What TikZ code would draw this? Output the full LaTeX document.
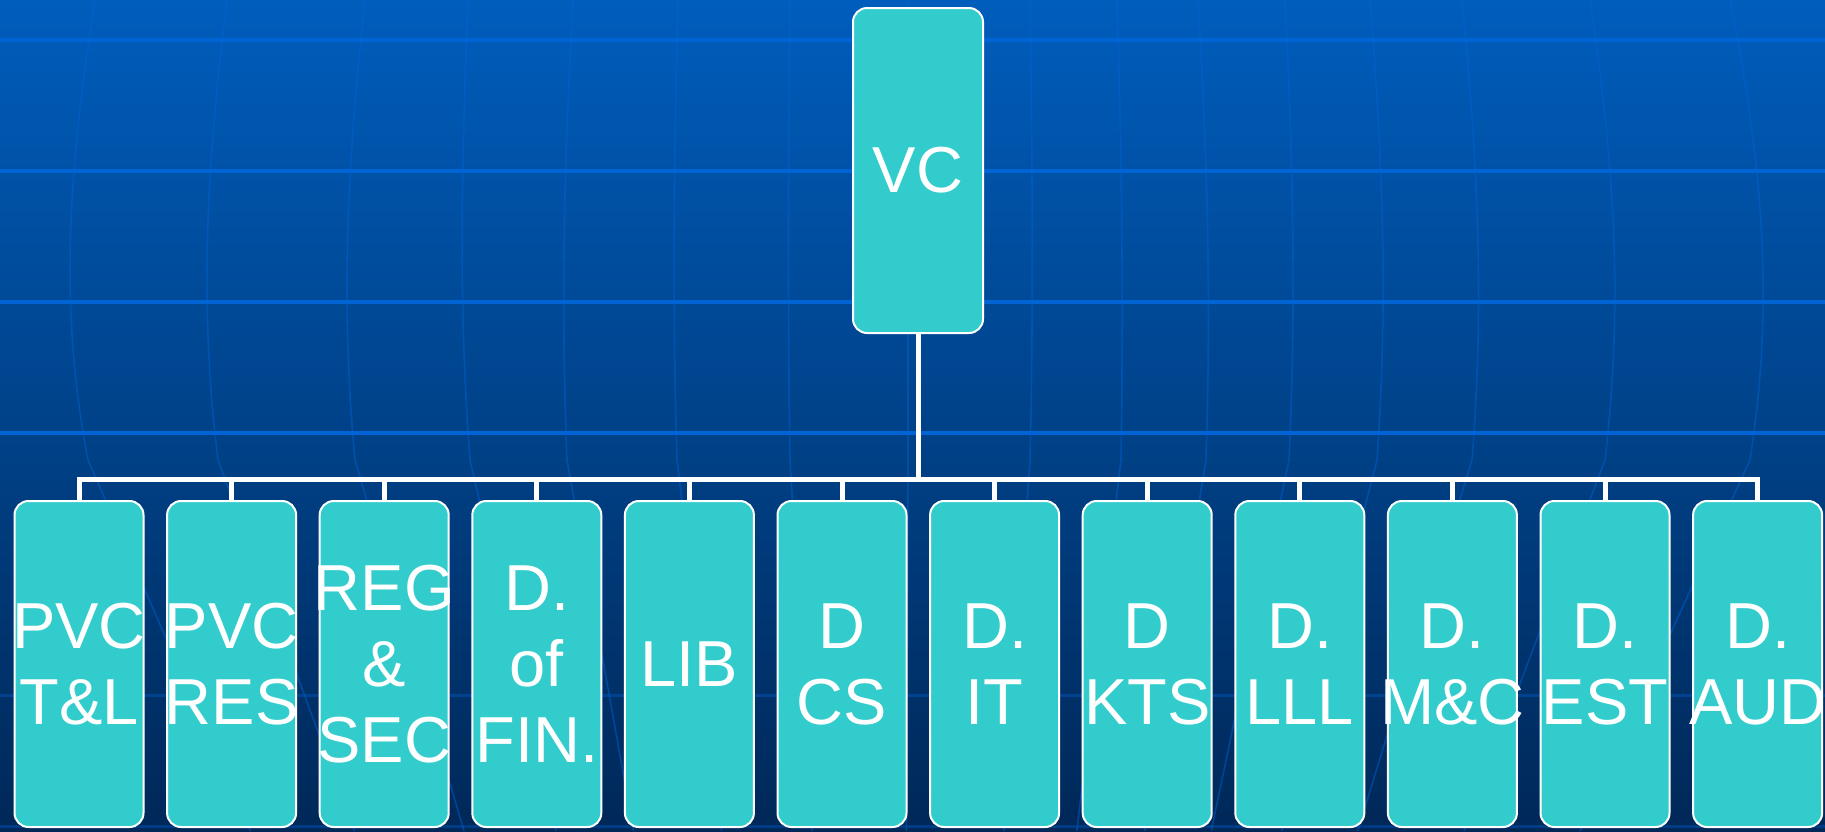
\documentclass[tikz,border=0pt]{standalone}
\usepackage{fontspec}
\setmainfont{Liberation Sans}
\definecolor{bgtop}{RGB}{0,93,188}
\definecolor{bgbot}{RGB}{0,40,88}
\definecolor{gridc}{RGB}{0,100,212}
\definecolor{merc}{RGB}{0,100,215}
\definecolor{boxc}{RGB}{51,204,204}
\tikzset{
  box/.style={draw=white, line width=2pt, fill=boxc, rounded corners=14pt,
    minimum width=129pt, minimum height=326pt, inner sep=0pt},
  lbl/.style={text=white, font=\fontsize{65}{76}\selectfont, align=center, inner sep=0pt},
  conn/.style={draw=white, line width=5pt, line join=miter},
  gridline/.style={draw=gridc, line width=4pt},
  faintgrid/.style={draw=gridc, line width=3pt, opacity=0.35},
  meridian/.style={draw=merc, line width=1.6pt, opacity=0.45}
}
\begin{document}
\begin{tikzpicture}[x=1pt,y=-1pt]
\useasboundingbox (0,0) rectangle (1825,831);
% background
\fill[top color=bgtop, bottom color=bgbot] (0,0) rectangle (1825,831);
\foreach \a/\b/\c in {95/63/88, 227/202/218, 365/343/355, 468/460/470, 573/562/567, 678/673/677, 790/788/790, 908/908/908, 1030/1033/1030, 1117/1123/1121, 1198/1210/1206, 1285/1295/1289, 1370/1386/1377, 1462/1482/1472, 1590/1620/1605, 1730/1770/1750}
  \draw[meridian] (\a,0) .. controls (\b,200) and (\b,330) .. (\c,460) -- ({\c+(900-\c)*0.2},831);
\foreach \y in {40,171,302,433}
  \draw[gridline] (0,\y) -- (1825,\y);
\foreach \y in {695,826}
  \draw[faintgrid] (0,\y) -- (1825,\y);
% nodes
\node[box, minimum width=130pt, minimum height=325pt] (vc) at (918,170.5) {};
\node[lbl] (tvc) at (vc.center) {VC};
\foreach \i in {0,...,11}{
  \node[box] (c\i) at ({79+152.6*\i},664) {};
}
\coordinate (hub) at (vc.south |- 0,479);
\draw[conn] (vc.south) -- (hub);
\draw[conn] (c0.north) -- (c0.north |- hub) -- (c11.north |- hub) -- (c11.north);
\foreach \i in {1,...,10}
  \draw[conn] (c\i.north) -- (c\i.north |- hub);
% labels
\node[lbl] (t0) at (c0.center) {PVC\\T\&L};
\node[lbl] (t1) at (c1.center) {PVC\\RES};
\node[lbl] (t2) at (c2.center) {REG\\\&\\SEC};
\node[lbl] (t3) at (c3.center) {D.\\of\\FIN.};
\node[lbl] (t4) at (c4.center) {LIB};
\node[lbl] (t5) at (c5.center) {D\\CS};
\node[lbl] (t6) at (c6.center) {D.\\IT};
\node[lbl] (t7) at (c7.center) {D\\KTS};
\node[lbl] (t8) at (c8.center) {D.\\LLL};
\node[lbl] (t9) at (c9.center) {D.\\M\&C};
\node[lbl] (t10) at (c10.center) {D.\\EST};
\node[lbl] (t11) at (c11.center) {D.\\AUD};
\end{tikzpicture}
\end{document}
